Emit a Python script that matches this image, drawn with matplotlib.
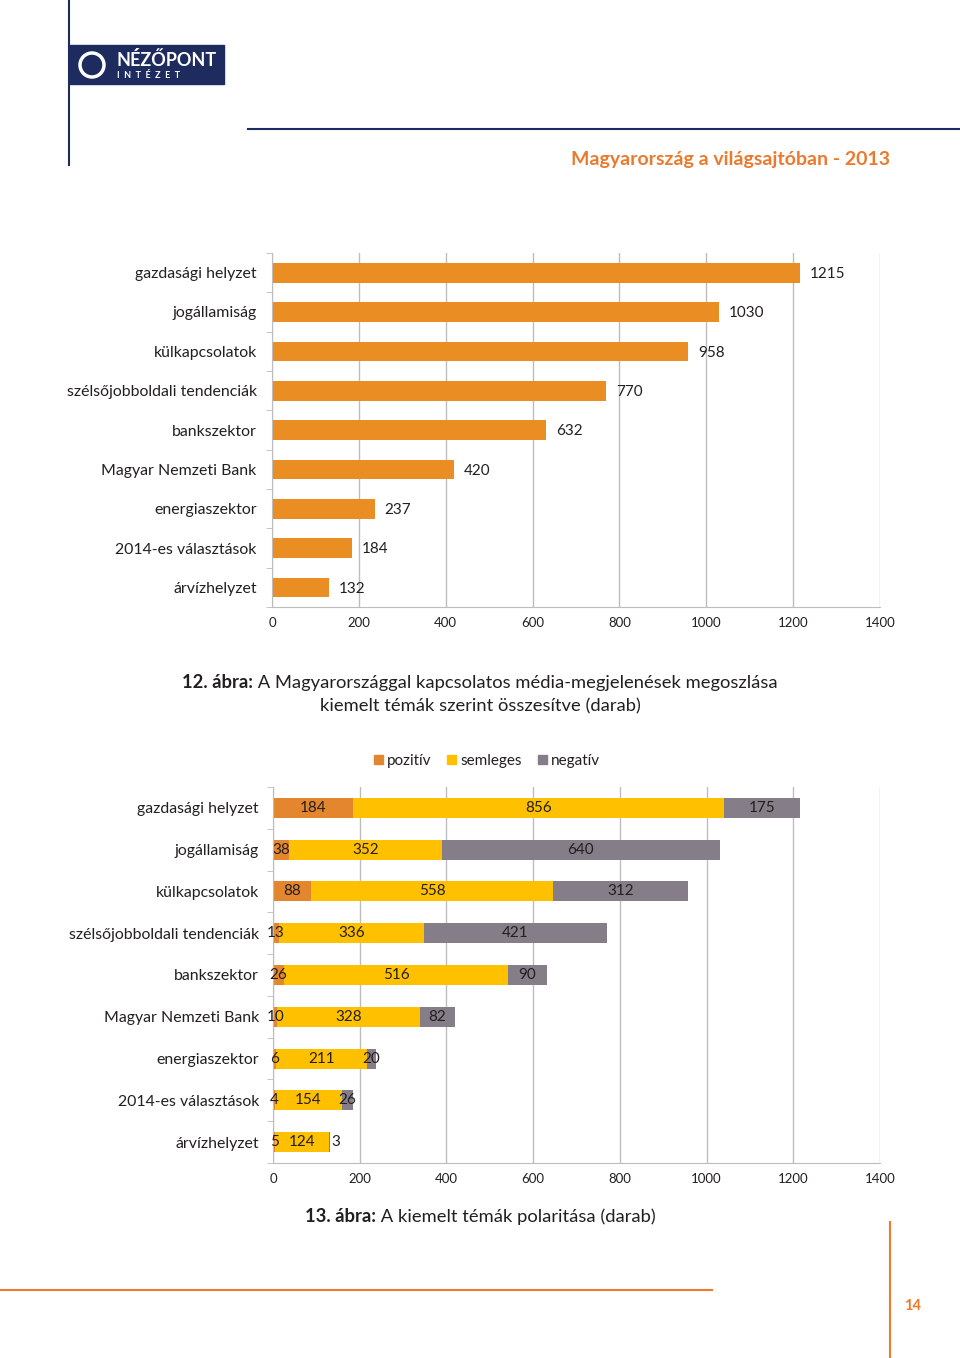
import matplotlib
matplotlib.use("Agg")
from matplotlib import pyplot as plt
from matplotlib.patches import Rectangle, Patch, Ellipse
from matplotlib.lines import Line2D

plt.rcParams["font.family"] = ["Lato", "DejaVu Sans"]

TOPICS = [
    "gazdasági helyzet",
    "jogállamiság",
    "külkapcsolatok",
    "szélsőjobboldali tendenciák",
    "bankszektor",
    "Magyar Nemzeti Bank",
    "energiaszektor",
    "2014-es választások",
    "árvízhelyzet",
]
TOTALS = [1215, 1030, 958, 770, 632, 420, 237, 184, 132]
POSITIVE = [184, 38, 88, 13, 26, 10, 6, 4, 5]
NEUTRAL = [856, 352, 558, 336, 516, 328, 211, 154, 124]
NEGATIVE = [175, 640, 312, 421, 90, 82, 20, 26, 3]
SERIES = ["pozitív", "semleges", "negatív"]
XTICKS = [0, 200, 400, 600, 800, 1000, 1200, 1400]

ORANGE = "#EA8E23"
COLORS = ["#E3862D", "#FFC000", "#857D87"]
TEXT = "#231F20"
GRID = "#BDBDBD"
ACCENT = "#EB7A2E"
NAVY = "#1E2B5E"

W, H = 960, 1358
fig = plt.figure(figsize=(W / 100, H / 100), dpi=100)


def fx(px):
    return px / W


def fy(py):
    return 1 - py / H


def style_axis(ax, pad):
    n = len(TOPICS)
    ax.set_xlim(0, 1400)
    ax.set_ylim(n - 0.5, -0.5)
    ax.set_xticks(XTICKS)
    ax.set_xticklabels([str(t) for t in XTICKS], fontsize=9.5, color=TEXT)
    ax.set_yticks(range(n))
    ax.set_yticklabels(TOPICS, fontsize=11.4, color=TEXT)
    ax.set_yticks([i - 0.5 for i in range(n + 1)], minor=True)
    ax.tick_params(axis="y", which="major", length=0, pad=pad)
    ax.tick_params(axis="y", which="minor", length=4, color=GRID)
    ax.tick_params(axis="x", length=0, pad=7)
    ax.grid(axis="x", color=GRID, lw=1)
    ax.set_axisbelow(True)
    for s in ["top", "right"]:
        ax.spines[s].set_visible(False)
    for s in ["left", "bottom"]:
        ax.spines[s].set_color(GRID)


# --- page decoration ---
fig.add_artist(Line2D([fx(69), fx(69)], [fy(0), fy(165)], color=NAVY, lw=1.5))
fig.add_artist(Line2D([fx(248), fx(960)], [fy(129), fy(129)], color=NAVY, lw=1.5))
fig.add_artist(Rectangle((fx(69), fy(84)), fx(155), 39 / H, color=NAVY))
fig.add_artist(Ellipse((fx(92), fy(65)), fx(24), 24 / H, transform=fig.transFigure,
                       fill=False, ec="white", lw=2.5))
fig.text(fx(117), fy(60), "NÉZŐPONT", color="white", fontsize=13, weight="bold",
         va="center", ha="left")
fig.text(fx(117), fy(76), "I  N  T  É  Z  E  T", color="white", fontsize=6.5,
         weight="bold", va="center", ha="left")
fig.text(fx(890), fy(160), "Magyarország a világsajtóban - 2013", color=ACCENT,
         fontsize=14, weight="bold", ha="right", va="center")
fig.add_artist(Line2D([fx(0), fx(712)], [fy(1290), fy(1290)], color=ACCENT, lw=1.5))
fig.add_artist(Line2D([fx(890), fx(890)], [fy(1222), fy(1358)], color=ACCENT, lw=1.5))
fig.text(fx(904), fy(1306), "14", color=ACCENT, fontsize=10.5, weight="bold",
         ha="left", va="center")

# --- chart 12 ---
ax1 = fig.add_axes([fx(272), fy(607), fx(608), 354 / H])
style_axis(ax1, 11)
ax1.barh(range(len(TOPICS)), TOTALS, height=0.5, color=ORANGE)
for i, v in enumerate(TOTALS):
    ax1.annotate(str(v), (v, i), xytext=(7, -1), textcoords="offset points",
                 va="center", ha="left", fontsize=11, color=TEXT)

# --- chart 13 ---
ax2 = fig.add_axes([fx(273), fy(1163), fx(607), 376 / H])
style_axis(ax2, 10)
left = [0] * len(TOPICS)
for name, vals, col in zip(SERIES, [POSITIVE, NEUTRAL, NEGATIVE], COLORS):
    ax2.barh(range(len(TOPICS)), vals, left=left, height=0.48,
             color=col, label=name)
    for i, v in enumerate(vals):
        x = left[i] + v / 2
        if name == "negatív" and v < 10:
            x = left[i] + v + 12
        ax2.text(x, i, str(v), ha="center", va="center", fontsize=11, color=TEXT)
    left = [a + b for a, b in zip(left, vals)]

fig.legend(handles=[Patch(color=c, label=s) for s, c in zip(SERIES, COLORS)],
           loc="center", bbox_to_anchor=(fx(487), fy(761)), ncol=3,
           frameon=False, fontsize=11, handlelength=0.6, handleheight=0.6,
           handletextpad=0.3, columnspacing=1.0, labelcolor=TEXT)


# --- captions with bold prefix ---
def caption(bold, rest, cx, cy):
    r = fig.canvas.get_renderer()
    t1 = fig.text(0, fy(cy), bold, fontsize=13.2, weight="bold", color=TEXT, va="center")
    t2 = fig.text(0, fy(cy), rest, fontsize=13.2, color=TEXT, va="center")
    w1 = t1.get_window_extent(r).width
    w2 = t2.get_window_extent(r).width
    x0 = cx - (w1 + w2) / 2
    t1.set_x(fx(x0))
    t2.set_x(fx(x0 + w1))


caption("12. ábra:", " A Magyarországgal kapcsolatos média-megjelenések megoszlása", 480, 683)
fig.text(fx(480), fy(706), "kiemelt témák szerint összesítve (darab)", fontsize=13.2,
         color=TEXT, ha="center", va="center")
caption("13. ábra:", " A kiemelt témák polaritása (darab)", 480, 1217)

fig.savefig("out.png", dpi=100)
